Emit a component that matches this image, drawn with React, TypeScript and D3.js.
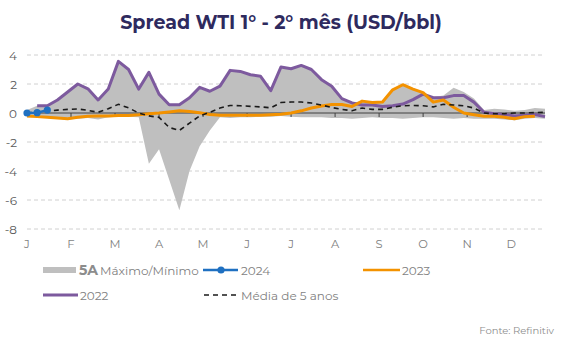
import React from "react";
import * as d3 from "d3";

const months = ["J", "F", "M", "A", "M", "J", "J", "A", "S", "O", "N", "D"];
const yTicks = [4, 2, 0, -2, -4, -6, -8];

const max5 = [0.2, 0.5, 0.5, 0.9, 1.45, 2.0, 1.67, 0.9, 1.65, 3.56, 3.0, 1.65, 2.8, 1.3, 0.57, 0.57, 1.05, 1.77, 1.5, 1.85, 2.94, 2.87, 2.64, 2.53, 1.54, 3.17, 3.05, 3.28, 3.0, 2.3, 1.84, 0.99, 0.69, 0.85, 0.75, 0.8, 1.6, 1.95, 1.65, 1.4, 1.1, 1.2, 1.75, 1.45, 1.0, 0.2, 0.3, 0.25, 0.15, 0.2, 0.35, 0.3];
const min5 = [-0.3, -0.3, -0.35, -0.4, -0.45, -0.4, -0.35, -0.45, -0.3, -0.25, -0.25, -0.3, -3.5, -2.5, -4.6, -6.7, -4.0, -2.3, -1.2, -0.3, -0.35, -0.3, -0.3, -0.25, -0.25, -0.2, -0.25, -0.3, -0.3, -0.3, -0.35, -0.35, -0.4, -0.35, -0.3, -0.35, -0.35, -0.4, -0.35, -0.3, -0.3, -0.35, -0.4, -0.35, -0.4, -0.4, -0.4, -0.45, -0.5, -0.4, -0.35, -0.4];
const y2024 = [0, 0.02, 0.2];
const y2023 = [-0.2, -0.25, -0.3, -0.35, -0.4, -0.3, -0.23, -0.2, -0.2, -0.18, -0.17, -0.12, -0.05, 0, 0.07, 0.15, 0.1, 0.02, -0.1, -0.15, -0.15, -0.15, -0.15, -0.15, -0.12, -0.08, 0.0, 0.15, 0.34, 0.48, 0.58, 0.58, 0.45, 0.82, 0.72, 0.76, 1.6, 1.95, 1.65, 1.4, 0.75, 0.9, 0.4, 0.0, -0.12, -0.23, -0.23, -0.3, -0.4, -0.25, -0.23, null];
const y2022 = [null, 0.5, 0.5, 0.9, 1.45, 2.0, 1.67, 0.9, 1.65, 3.56, 3.0, 1.65, 2.8, 1.3, 0.57, 0.57, 1.05, 1.77, 1.5, 1.85, 2.94, 2.87, 2.64, 2.53, 1.54, 3.17, 3.05, 3.28, 3.0, 2.3, 1.84, 0.99, 0.69, 0.55, 0.55, 0.45, 0.5, 0.62, 0.92, 1.3, 1.05, 1.05, 1.2, 1.2, 0.75, 0.05, -0.05, -0.1, -0.2, -0.15, -0.1, -0.25];
const avg5 = [0, 0.05, 0.12, 0.2, 0.25, 0.28, 0.18, 0.05, 0.3, 0.6, 0.35, 0.0, -0.2, -0.3, -1.0, -1.2, -0.7, -0.2, 0.05, 0.34, 0.52, 0.5, 0.46, 0.42, 0.36, 0.72, 0.76, 0.76, 0.69, 0.55, 0.38, 0.25, 0.16, 0.34, 0.25, 0.25, 0.4, 0.5, 0.52, 0.5, 0.42, 0.6, 0.55, 0.5, 0.34, 0.0, -0.05, -0.05, 0.0, 0.0, 0.03, 0.05];

const W = 563, H = 355;
const X0 = 27, X1 = 545;
const FONT = "Montserrat, 'Open Sans', sans-serif";

export default function App() {
  const n = max5.length;
  const x = d3.scaleLinear().domain([0, n - 1]).range([X0, X1]);
  const y = d3.scaleLinear().domain([-8, 4]).range([229, 55]);
  const weeksPerMonth = n / 12;
  const mx = (k: number) => x(k * weeksPerMonth);

  const area = d3.area<number>()
    .x((_, i) => x(i))
    .y0((_, i) => y(min5[i]))
    .y1((d) => y(d));
  const line = d3.line<number | null>()
    .defined((d) => d !== null)
    .x((_, i) => x(i))
    .y((d) => y(d as number));

  return (
    <svg width={W} height={H} style={{ position: "absolute", left: 0, top: 0, background: "#fff" }} fontFamily={FONT}>
      <text x={281} y={29} textAnchor="middle" fontSize={19} fontWeight={700} fill="#2E2A5E">
        Spread WTI 1° - 2° mês (USD/bbl)
      </text>
      {yTicks.filter((t) => t !== 0).map((t) => (
        <line key={t} x1={X0} x2={X1} y1={y(t)} y2={y(t)} stroke="#D0D0D0" strokeWidth={1} strokeDasharray="4,3" />
      ))}
      {yTicks.map((t) => (
        <text key={"l" + t} x={17} y={y(t) + 4.5} textAnchor="end" fontSize={12} fill="#595959">{t}</text>
      ))}
      <path d={area(max5) || ""} fill="#BFBFBF" />
      <line x1={X0} x2={X1} y1={y(0)} y2={y(0)} stroke="#404040" strokeWidth={1} />
      {d3.range(1, 12).map((k) => (
        <line key={"t" + k} x1={mx(k)} x2={mx(k)} y1={y(0)} y2={y(0) + 4} stroke="#404040" strokeWidth={1} />
      ))}
      {months.map((m, k) => (
        <text key={"m" + k} x={mx(k)} y={248} textAnchor="middle" fontSize={11.5} fill="#7F7F7F">{m}</text>
      ))}
      <path d={line(y2022) || ""} fill="none" stroke="#7D5A9E" strokeWidth={3} strokeLinejoin="round" />
      <path d={line(y2023) || ""} fill="none" stroke="#F39200" strokeWidth={3} strokeLinejoin="round" />
      <path d={line(avg5) || ""} fill="none" stroke="#1A1A1A" strokeWidth={1.6} strokeDasharray="5,4" />
      <path d={line(y2024) || ""} fill="none" stroke="#1F70C1" strokeWidth={2.5} />
      {y2024.map((v, i) => (
        <circle key={"c" + i} cx={x(i)} cy={y(v)} r={3.6} fill="#1F70C1" />
      ))}

      {/* legend */}
      <g fontSize={12} fill="#7F7F7F">
        <rect x={43} y={267} width={33} height={6} fill="#BFBFBF" />
        <text x={79} y={275} fontWeight={700} fontSize={14} fill="#8C8C8C">5A</text>
        <text x={100} y={275}>Máximo/Mínimo</text>
        <line x1={203} x2={238} y1={270} y2={270} stroke="#1F70C1" strokeWidth={2.5} />
        <circle cx={221} cy={270} r={3.6} fill="#1F70C1" />
        <text x={241} y={275}>2024</text>
        <line x1={363} x2={400} y1={270} y2={270} stroke="#F39200" strokeWidth={2.5} />
        <text x={402} y={275}>2023</text>
        <line x1={43} x2={78} y1={295} y2={295} stroke="#7D5A9E" strokeWidth={3} />
        <text x={80} y={300}>2022</text>
        <line x1={204} x2={237} y1={295} y2={295} stroke="#1A1A1A" strokeWidth={1.5} strokeDasharray="5,4" />
        <text x={241} y={300}>Média de 5 anos</text>
      </g>
      <text x={554} y={334} textAnchor="end" fontSize={10} fill="#8C8C8C">Fonte: Refinitiv</text>
    </svg>
  );
}
